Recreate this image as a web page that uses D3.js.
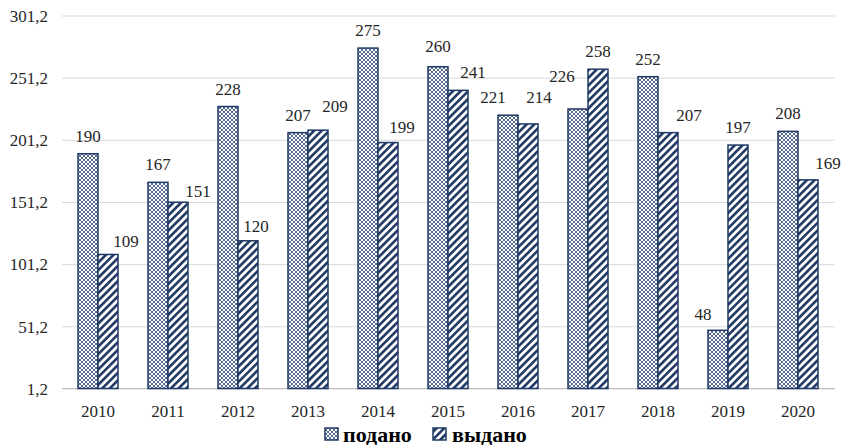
<!DOCTYPE html>
<html><head><meta charset="utf-8">
<script src="https://cdn.jsdelivr.net/npm/d3@7"></script>
<style>
body{margin:0;background:#fff}
svg{display:block}
</style>
</head><body>
<svg id="c" width="842" height="445"></svg>
<script>
const years = ["2010","2011","2012","2013","2014","2015","2016","2017","2018","2019","2020"];
const podano = [190,167,228,207,275,260,221,226,252,48,208];
const vydano = [109,151,120,209,199,241,214,258,207,197,169];
const yTicks = [1.2,51.2,101.2,151.2,201.2,251.2,301.2];
const seriesNames = ["подано","выдано"];
// manual label nudges in px [dx, dy] (labels were hand-placed in the original)
const podanoNudge = [[0,0],[0,0],[0,0],[0,0],[0,0],[0,-3],[-15,0],[-16,-15],[0,0],[-15,2],[0,0]];
const vydanoNudge = [[18,5],[20,7],[8,3],[17,-6],[14,2],[15,0],[11,-9],[0,0],[21,0],[0,0],[20,1]];

const FONT = "'Liberation Serif'";
const navy = "#1f3864";
const svg = d3.select("#c");
const defs = svg.append("defs");

// lattice pattern for "подано"
const p1 = defs.append("pattern").attr("id","pat1").attr("patternUnits","userSpaceOnUse")
  .attr("width",4).attr("height",4);
p1.append("rect").attr("width",4).attr("height",4).attr("fill","#ffffff");
p1.append("path").attr("d","M0,0L4,4M4,0L0,4").attr("stroke",navy).attr("stroke-width",0.75);

// diagonal stripes for "выдано"
const p2 = defs.append("pattern").attr("id","pat2").attr("patternUnits","userSpaceOnUse")
  .attr("width",5.4).attr("height",5.4).attr("patternTransform","rotate(45)");
p2.append("rect").attr("width",5.4).attr("height",5.4).attr("fill","#ffffff");
p2.append("rect").attr("width",2.6).attr("height",5.4).attr("fill",navy);

const y = d3.scaleLinear().domain([1.2,301.2]).range([388.5,15.5]);
const x = d3.scaleBand().domain(years).range([63,833]).paddingInner(30/70).paddingOuter(15/70);
const x1 = d3.scaleBand().domain([0,1]).range([0,x.bandwidth()]);

// y grid + labels
const ya = svg.append("g").attr("transform","translate(62,0)")
  .call(d3.axisLeft(y).tickValues(yTicks)
    .tickFormat(d=>d.toFixed(1).replace(".",","))
    .tickSize(-773).tickPadding(14));
ya.attr("font-family",null);
ya.select(".domain").remove();
ya.selectAll(".tick line").attr("stroke","#d9d9d9").attr("stroke-width",1);
ya.selectAll(".tick text").attr("font-size",17).attr("fill","#262626").attr("dy","0.34em").style("font-family",FONT);

// x axis
const xa = svg.append("g").attr("transform","translate(0,388.5)")
  .call(d3.axisBottom(x).tickSize(0).tickPadding(0));
xa.attr("font-family",null);
xa.select(".domain").attr("stroke","#bfbfbf").attr("d","M62,0H835");
xa.selectAll(".tick text").attr("font-size",17).attr("fill","#262626").attr("dy",0).attr("y",28)
  .style("font-family",FONT);

const series = [
  {vals:podano, pat:"url(#pat1)", nudge:podanoNudge},
  {vals:vydano, pat:"url(#pat2)", nudge:vydanoNudge}
];

series.forEach((s,si)=>{
  const g = svg.append("g");
  g.selectAll("rect").data(s.vals).join("rect")
    .attr("x",(d,i)=>x(years[i])+x1(si))
    .attr("width",x1.bandwidth())
    .attr("y",d=>y(d))
    .attr("height",d=>y(1.2)-y(d))
    .attr("fill",s.pat)
    .attr("stroke",navy).attr("stroke-width",1.5);
  svg.append("g").selectAll("text").data(s.vals).join("text")
    .attr("x",(d,i)=>x(years[i])+x1(si)+x1.bandwidth()/2+s.nudge[i][0])
    .attr("y",(d,i)=>y(d)-12+s.nudge[i][1])
    .attr("text-anchor","middle").attr("font-size",17).attr("fill","#262626")
    .style("font-family",FONT)
    .text(d=>d);
});

// legend
const leg = svg.append("g");
const legX = [325,433];
const legTextX = [343,452];
seriesNames.forEach((n,i)=>{
  leg.append("rect").attr("x",legX[i]).attr("y",428).attr("width",13).attr("height",12)
    .attr("fill",i===0?"url(#pat1)":"url(#pat2)").attr("stroke",navy).attr("stroke-width",1.5);
  leg.append("text").attr("x",legTextX[i]).attr("y",441.5).attr("font-size",22)
    .attr("font-weight","bold").attr("fill","#000").style("font-family",FONT).text(n);
});
</script>
</body></html>
